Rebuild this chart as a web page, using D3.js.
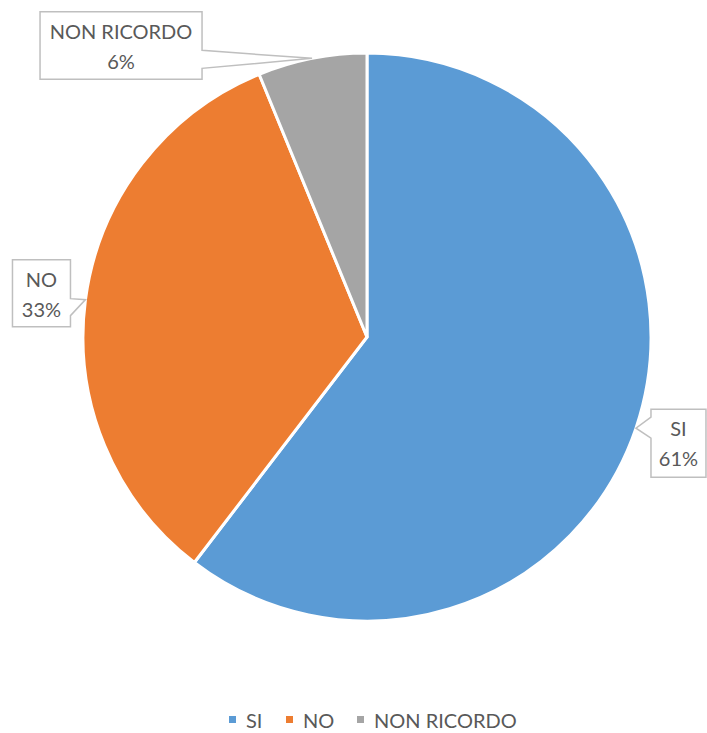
<!DOCTYPE html>
<html>
<head>
<meta charset="utf-8">
<script src="https://cdn.jsdelivr.net/npm/d3@7"></script>
<style>
  html, body { margin: 0; padding: 0; background: #fff; }
  svg { display: block; }
</style>
</head>
<body>
<svg id="chart" width="707" height="733"></svg>
<script>
// ---- data ----
const categories = ["SI", "NO", "NON RICORDO"];
const values = [60.4, 33.4, 6.2];          // slice sizes
const percentLabels = ["61%", "33%", "6%"]; // label text as printed
const colors = ["#5B9BD5", "#ED7D31", "#A5A5A5"];

// ---- layout ----
const W = 707, H = 733;
const cx = 367, cy = 337, R = 284;
const font = "Lato, 'Open Sans', 'Noto Sans', sans-serif";
const fontSize = 20;
const textColor = "#595959";

const svg = d3.select("#chart");
const data = categories.map((c, i) => ({ cat: c, value: values[i], label: percentLabels[i], color: colors[i] }));

const pie = d3.pie().value(d => d.value).sort(null).startAngle(0).endAngle(2 * Math.PI);
const arcs = pie(data);
const arc = d3.arc().innerRadius(0).outerRadius(R);

const g = svg.append("g").attr("transform", `translate(${cx},${cy})`);
g.selectAll("path.slice")
  .data(arcs)
  .enter().append("path")
  .attr("class", "slice")
  .attr("d", arc)
  .attr("fill", d => d.data.color)
  .attr("stroke", "#fff")
  .attr("stroke-width", 3)
  .attr("stroke-linejoin", "round");

// ---- callout labels ----
// box geometry relative to the tip point (tip on the outer edge at the mid-angle)
const callouts = {
  "SI":          { dx: 15,   dy: -19,  w: 55,  h: 68, side: "left",  a1: 8,  a2: 29 },
  "NO":          { dx: -73,  dy: -40,  w: 58,  h: 67, side: "right", a1: 39, a2: 56 },
  "NON RICORDO": { dx: -272, dy: -46.5, w: 162, h: 67.5, side: "right", a1: 38.5, a2: 56.5 }
};

const lg = svg.append("g");
arcs.forEach(a => {
  const mid = (a.startAngle + a.endAngle) / 2;
  const tx = cx + R * Math.sin(mid);
  const ty = cy - R * Math.cos(mid);
  const c = callouts[a.data.cat];
  const x0 = tx + c.dx, y0 = ty + c.dy, x1 = x0 + c.w, y1 = y0 + c.h;
  let p = d3.path();
  if (c.side === "right") {
    p.moveTo(x0, y0); p.lineTo(x1, y0);
    p.lineTo(x1, y0 + c.a1); p.lineTo(tx, ty); p.lineTo(x1, y0 + c.a2);
    p.lineTo(x1, y1); p.lineTo(x0, y1); p.closePath();
  } else {
    p.moveTo(x0, y0); p.lineTo(x1, y0); p.lineTo(x1, y1); p.lineTo(x0, y1);
    p.lineTo(x0, y0 + c.a2); p.lineTo(tx, ty); p.lineTo(x0, y0 + c.a1);
    p.closePath();
  }
  lg.append("path")
    .attr("d", p.toString())
    .attr("fill", "#fff")
    .attr("stroke", "#BFBFBF")
    .attr("stroke-width", 1.5);
  const mx = (x0 + x1) / 2;
  lg.append("text")
    .attr("x", mx).attr("y", y0 + 27)
    .attr("text-anchor", "middle")
    .attr("font-family", font).attr("font-size", fontSize)
    .attr("fill", textColor)
    .text(a.data.cat);
  lg.append("text")
    .attr("x", mx).attr("y", y0 + 57)
    .attr("text-anchor", "middle")
    .attr("font-family", font).attr("font-size", fontSize)
    .attr("fill", textColor)
    .text(a.data.label);
});

// ---- legend ----
const legendX = [229, 286, 357];
const leg = svg.append("g");
data.forEach((d, i) => {
  leg.append("rect")
    .attr("x", legendX[i]).attr("y", 716)
    .attr("width", 7).attr("height", 7)
    .attr("fill", d.color);
  leg.append("text")
    .attr("x", legendX[i] + 17).attr("y", 727.5)
    .attr("font-family", font).attr("font-size", fontSize)
    .attr("fill", textColor)
    .text(d.cat);
});
</script>
</body>
</html>
